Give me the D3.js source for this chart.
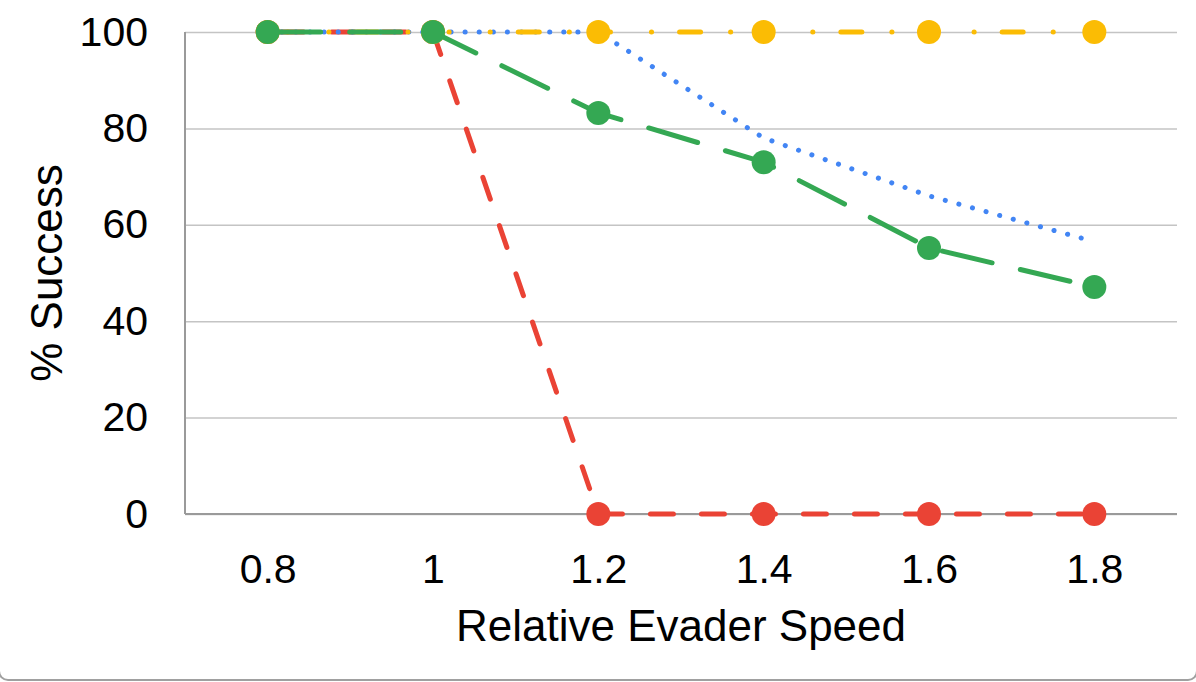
<!DOCTYPE html>
<html>
<head>
<meta charset="utf-8">
<script src="https://cdn.jsdelivr.net/npm/d3@7"></script>
<style>
    body { margin: 0; background: #fff; }
    text { font-family: "Liberation Sans", Arial, sans-serif; fill: #000; }
</style>
</head>
<body>
<svg id="plotarea"></svg>
<script>
// data
var speeds = ["0.8", "1", "1.2", "1.4", "1.6", "1.8"];
var redValues = [100, 100, 0, 0, 0, 0];
var blueValues = [100, 100, 100, 78, 66, 56.5];
var yellowValues = [100, 100, 100, 100, 100, 100];
var greenValues = [100, 100, 83.2, 73, 55.2, 47.1];
var yTicks = [0, 20, 40, 60, 80, 100];

// drawing order matters: green ends up on top
var series = [
    {values: redValues, color: "#EA4335", dash: "23,28", offset: 38, markers: true},
    {values: blueValues, color: "#4285F4", dash: "0.1,14", offset: 0, markers: false},
    {values: yellowValues, color: "#FBBC04", dash: "21,30,0.1,41,0.1,41,0.1,28", offset: 72, markers: true},
    {values: greenValues, color: "#34A853", dash: "51,29", offset: -2, markers: true}
];

var width = 1196, height = 682;
var margin = {top: 32, right: 19, bottom: 168, left: 185};

var svg = d3.select("#plotarea")
    .attr("width", width)
    .attr("height", height);

// thin rounded frame, mostly outside the view
svg.append("rect")
    .attr("x", -1)
    .attr("y", -20)
    .attr("width", 1198)
    .attr("height", 700)
    .attr("rx", 9)
    .attr("fill", "none")
    .attr("stroke", "#a0a0a0")
    .attr("stroke-width", 2);

var x = d3.scalePoint()
    .domain(speeds)
    .range([margin.left, width - margin.right])
    .padding(0.5);

var y = d3.scaleLinear()
    .domain([0, 100])
    .range([height - margin.bottom, margin.top]);

// gridlines + y labels
var yAxis = svg.append("g")
    .attr("transform", "translate(" + margin.left + ",0)")
    .call(d3.axisLeft(y)
        .tickValues(yTicks)
        .tickFormat(d3.format("d"))
        .tickSize(-(width - margin.left - margin.right))
        .tickPadding(37));
yAxis.select(".domain").remove();
yAxis.selectAll(".tick line")
    .attr("stroke", "#c4c4c4")
    .attr("stroke-width", 1.5);
yAxis.selectAll(".tick text")
    .style("font-size", "41px");

// x labels
var xAxis = svg.append("g")
    .attr("transform", "translate(0," + y(0) + ")")
    .call(d3.axisBottom(x).tickSize(0).tickPadding(40));
xAxis.select(".domain").remove();
xAxis.selectAll(".tick text")
    .style("font-size", "41px");

// axis lines (left and bottom are a bit darker than the grid)
svg.append("line")
    .attr("x1", margin.left).attr("x2", margin.left)
    .attr("y1", y(100)).attr("y2", y(0))
    .attr("stroke", "#9a9a9a").attr("stroke-width", 2);
svg.append("line")
    .attr("x1", margin.left).attr("x2", width - margin.right)
    .attr("y1", y(0)).attr("y2", y(0))
    .attr("stroke", "#9a9a9a").attr("stroke-width", 2);

// titles
svg.append("text")
    .attr("x", (margin.left + width - margin.right) / 2)
    .attr("y", 641)
    .attr("text-anchor", "middle")
    .style("font-size", "44px")
    .text("Relative Evader Speed");

svg.append("text")
    .attr("transform", "translate(62," + (margin.top + y(0)) / 2 + ") rotate(-90)")
    .attr("text-anchor", "middle")
    .style("font-size", "44px")
    .text("% Success");

// series lines and markers
var line = d3.line()
    .x(function (d, i) { return x(speeds[i]); })
    .y(function (d) { return y(d); });

series.forEach(function (s) {
    svg.append("path")
        .datum(s.values)
        .attr("d", line)
        .attr("fill", "none")
        .attr("stroke", s.color)
        .attr("stroke-width", 5)
        .attr("stroke-linecap", "round")
        .attr("stroke-dasharray", s.dash)
        .attr("stroke-dashoffset", s.offset);

    if (s.markers) {
        svg.append("g")
            .selectAll("circle")
            .data(s.values)
            .enter()
            .append("circle")
            .attr("cx", function (d, i) { return x(speeds[i]); })
            .attr("cy", function (d) { return y(d); })
            .attr("r", 12)
            .attr("fill", s.color);
    }
});
</script>
</body>
</html>
